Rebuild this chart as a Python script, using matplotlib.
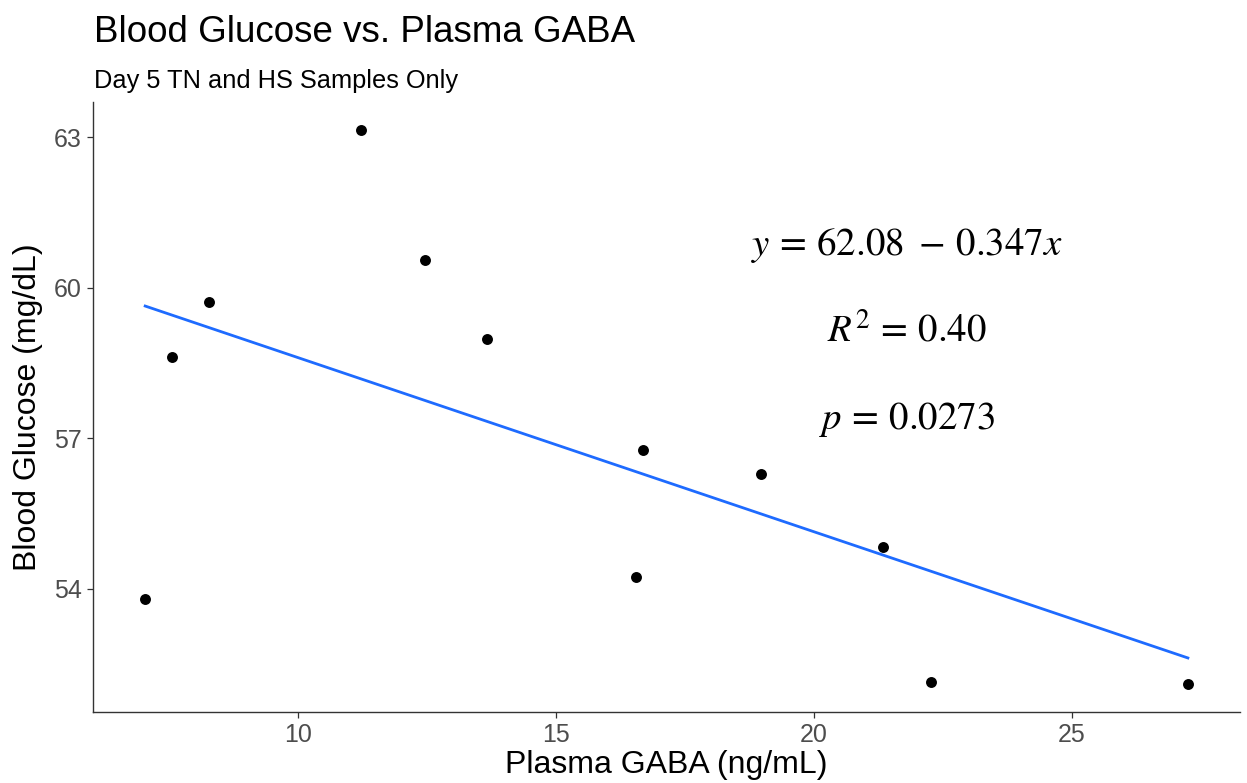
import matplotlib
matplotlib.use("Agg")
import matplotlib.pyplot as plt
import numpy as np

# Data
gaba = [7.04, 7.56, 8.27, 11.23, 12.47, 13.67, 16.56, 16.69, 18.98, 21.35, 22.27, 27.25]
glucose = [53.79, 58.63, 59.72, 63.15, 60.56, 58.98, 54.23, 56.76, 56.28, 54.83, 52.15, 52.10]
intercept = 62.08
slope = -0.347
x_ticks = [10, 15, 20, 25]
y_ticks = [54, 57, 60, 63]

plt.rcParams['font.family'] = ['Liberation Sans', 'DejaVu Sans']
plt.rcParams['mathtext.fontset'] = 'stix'

fig = plt.figure(figsize=(12.47, 7.83), dpi=100)
ax = fig.add_axes([0.0746, 0.0907, 0.9198, 0.779])

ax.scatter(gaba, glucose, s=62, color='black', zorder=3, linewidths=0)
xf = np.array([min(gaba), max(gaba)])
ax.plot(xf, intercept + slope * xf, color='#1E6BFF', lw=2.0, zorder=2)

xr = max(gaba) - min(gaba)
yr = max(glucose) - min(glucose)
ax.set_xlim(min(gaba) - 0.05 * xr, max(gaba) + 0.05 * xr)
ax.set_ylim(min(glucose) - 0.05 * yr, max(glucose) + 0.05 * yr)
ax.set_xticks(x_ticks)
ax.set_yticks(y_ticks)

for s in ['top', 'right']:
    ax.spines[s].set_visible(False)
for s in ['left', 'bottom']:
    ax.spines[s].set_color('#333333')
    ax.spines[s].set_linewidth(1.0)
ax.tick_params(axis='both', colors='#333333', labelcolor='#4D4D4D', labelsize=18,
               length=4, width=0.9, direction='out', pad=4)

ax.set_xlabel('Plasma GABA (ng/mL)', fontsize=23, labelpad=2)
ax.set_ylabel('Blood Glucose (mg/dL)', fontsize=23, labelpad=8)

fig.text(0.0754, 0.958, 'Blood Glucose vs. Plasma GABA', fontsize=26.5, ha='left', va='center')
fig.text(0.0754, 0.897, 'Day 5 TN and HS Samples Only', fontsize=18.3, ha='left', va='center')

ax.text(21.8, 60.84, r'$y\,=\,62.08\ -\,0.347x$', fontsize=28, ha='center', va='center')
ax.text(21.8, 59.14, r'$R^2\,=\,0.40$', fontsize=28, ha='center', va='center')
ax.text(21.8, 57.38, r'$p\,=\,0.0273$', fontsize=28, ha='center', va='center')

fig.savefig('out.png', dpi=100, facecolor='white')
